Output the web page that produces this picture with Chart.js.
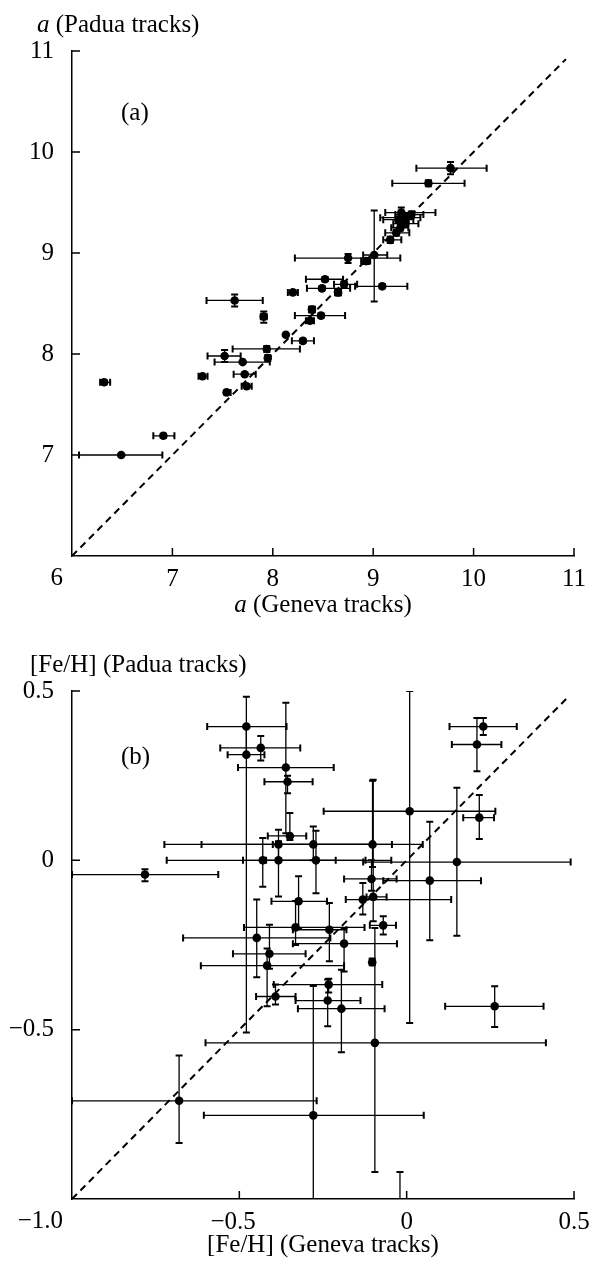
<!DOCTYPE html>
<html>
<head>
<meta charset="utf-8">
<script src="https://cdn.jsdelivr.net/npm/chart.js@4.4.1/dist/chart.umd.min.js"></script>
<style>
  body { margin: 0; background: #fff; }
  canvas { display: block; }
</style>
</head>
<body>
<canvas id="age_chart" width="598" height="630"></canvas>
<canvas id="feh_chart" width="598" height="633"></canvas>
<script>
// (a) a from Geneva tracks vs a from Padua tracks
const ageGeneva   = [9.77, 9.55, 9.28, 9.33, 9.38, 9.25, 9.32, 9.23, 9.17, 9.27, 9.01, 8.75, 8.93, 8.52, 8.49, 8.71, 8.65, 9.09, 8.20, 7.62, 7.91, 8.39, 8.48, 8.37, 8.13, 8.30, 7.94, 7.95, 7.52, 7.70, 6.32, 7.30, 7.72, 7.74, 7.54, 6.91, 6.49];
const agePadua    = [9.84, 9.69, 9.40, 9.35, 9.38, 9.33, 9.29, 9.20, 9.13, 9.25, 8.98, 8.95, 8.92, 8.74, 8.65, 8.69, 8.61, 8.67, 8.61, 8.53, 8.37, 8.44, 8.38, 8.33, 8.19, 8.13, 8.05, 7.96, 7.98, 7.92, 7.72, 7.78, 7.80, 7.68, 7.62, 7.19, 7.00];
const ageGenevaLo = [9.43, 9.19, 9.12, 9.07, 9.22, 9.10, 9.20, 9.12, 9.10, 9.18, 8.90, 8.22, 8.88, 8.33, 8.34, 8.61, 8.62, 8.82, 8.15, 7.34, 7.88, 8.36, 8.22, 8.33, 8.13, 8.19, 7.60, 7.93, 7.35, 7.42, 6.28, 7.26, 7.61, 7.69, 7.52, 6.81, 6.07];
const ageGenevaHi = [10.13, 9.91, 9.62, 9.47, 9.50, 9.40, 9.45, 9.36, 9.28, 9.35, 9.14, 9.27, 8.97, 8.70, 8.77, 8.84, 8.68, 9.34, 8.25, 7.90, 7.94, 8.42, 8.72, 8.41, 8.13, 8.41, 8.27, 7.97, 7.68, 7.97, 6.38, 7.35, 7.83, 7.79, 7.58, 7.02, 6.90];
const agePaduaLo  = [9.78, 9.66, 9.33, 9.31, 9.35, 9.30, 9.26, 9.17, 9.10, 9.22, 8.52, 8.90, 8.89, 8.72, 8.63, 8.66, 8.58, 8.65, 8.59, 8.47, 8.31, 8.41, 8.36, 8.31, 8.19, 8.11, 8.02, 7.93, 7.92, 7.91, 7.70, 7.77, 7.79, 7.67, 7.61, 7.17, 6.99];
const agePaduaHi  = [9.90, 9.72, 9.45, 9.39, 9.41, 9.36, 9.32, 9.23, 9.16, 9.28, 9.42, 8.99, 8.95, 8.76, 8.67, 8.72, 8.64, 8.69, 8.63, 8.59, 8.42, 8.47, 8.40, 8.35, 8.19, 8.15, 8.08, 7.99, 8.04, 7.93, 7.74, 7.79, 7.81, 7.69, 7.63, 7.21, 7.01];
const ageTicks = [6, 11, 1];
const ageDiagonal = [6, 10.92];

// (b) [Fe/H] from Geneva tracks vs [Fe/H] from Padua tracks
const fehGeneva   = [-0.479, -0.436, -0.479, -0.361, -0.356, 0.229, 0.210, 0.009, 0.217, 0.150, 0.069, -0.430, -0.383, -0.271, -0.782, -0.105, -0.323, -0.131, -0.100, -0.070, -0.332, -0.231, -0.448, -0.187, -0.410, -0.417, -0.103, -0.233, -0.392, -0.236, -0.195, 0.263, -0.095, -0.680, -0.279, -0.383, -0.349, -0.279, -0.102, -0.020];
const fehPadua    = [0.395, 0.332, 0.312, 0.274, 0.232, 0.395, 0.342, 0.145, 0.126, -0.005, -0.060, 0.000, 0.000, 0.000, -0.042, -0.055, -0.121, -0.116, -0.108, -0.192, -0.198, -0.205, -0.229, -0.246, -0.276, -0.311, -0.301, -0.367, -0.402, -0.414, -0.438, -0.431, -0.539, -0.710, -0.753, 0.047, 0.072, 0.047, 0.047, -1.080];
const fehGenevaLo = [-0.596, -0.557, -0.535, -0.504, -0.425, 0.128, 0.135, -0.248, 0.169, -0.130, -0.070, -0.717, -0.489, -0.420, -1.000, -0.187, -0.404, -0.182, -0.120, -0.110, -0.486, -0.340, -0.668, -0.340, -0.519, -0.615, -0.110, -0.397, -0.450, -0.332, -0.325, 0.115, -0.601, -1.000, -0.606, -0.724, -0.415, -0.613, -0.400, -0.020];
const fehGenevaHi = [-0.359, -0.318, -0.425, -0.218, -0.281, 0.329, 0.283, 0.265, 0.261, 0.490, 0.222, -0.212, -0.123, -0.046, -0.563, -0.030, -0.238, 0.133, -0.060, -0.032, -0.126, -0.180, -0.228, -0.029, -0.302, -0.187, -0.096, -0.073, -0.332, -0.138, -0.066, 0.409, 0.416, -0.269, 0.051, -0.100, -0.300, -0.044, 0.048, -0.020];
const fehPaduaLo  = [0.310, 0.295, -0.508, 0.080, 0.198, 0.370, 0.263, -0.480, 0.063, -0.223, -0.236, -0.078, -0.107, -0.097, -0.062, -0.090, -0.200, -0.160, -0.180, -0.219, -0.250, -0.298, -0.345, -0.328, -0.320, -0.431, -0.310, -0.390, -0.426, -0.490, -0.567, -0.492, -0.920, -0.835, -1.100, 0.000, 0.060, 0.000, -0.020, -1.200];
const fehPaduaHi  = [0.483, 0.367, 0.395, 0.465, 0.250, 0.420, 0.420, 0.500, 0.193, 0.214, 0.114, 0.066, 0.056, 0.087, -0.026, 0.000, -0.047, -0.067, 0.238, -0.165, -0.120, -0.126, -0.116, -0.200, -0.190, -0.260, -0.290, -0.350, -0.367, -0.352, -0.323, -0.372, -0.200, -0.576, -0.371, 0.090, 0.140, 0.100, 0.235, -0.920];
const fehTicks = [-1, 0.5, 0.5];
const fehDiagonal = [-1, 0.48];

const FONT = 'Liberation Serif, Times New Roman, serif';
const FONT_SIZE = 25;

function toPoints(xs, ys) {
    return xs.map((v, i) => ({ x: v, y: ys[i] }));
}

function fmtFeh(v) {
    if (Math.abs(v) < 1e-9) return '0';
    return (v < 0 ? '\u2212' : '') + Math.abs(v).toFixed(1);
}

// negative x labels: keep the digits centred under the tick
function fmtFehX(v) {
    return v < -1e-9 ? fmtFeh(v) + '\u2002' : fmtFeh(v);
}

// horizontal and vertical error bars with small end caps
const errorBars = {
    id: 'errorBars',
    beforeDatasetsDraw(chart) {
        const { ctx, chartArea: area, scales } = chart;
        const sx = scales.x, sy = scales.y;
        ctx.save();
        ctx.beginPath();
        ctx.rect(area.left, area.top, area.right - area.left, area.bottom - area.top);
        ctx.clip();
        ctx.strokeStyle = '#000';
        chart.data.datasets.forEach(ds => {
            const e = ds.errorBars;
            if (!e) return;
            ds.data.forEach((p, i) => {
                const px = sx.getPixelForValue(p.x);
                const py = sy.getPixelForValue(p.y);
                const x0 = sx.getPixelForValue(e.xLo[i]);
                const x1 = sx.getPixelForValue(e.xHi[i]);
                const y0 = sy.getPixelForValue(e.yLo[i]);
                const y1 = sy.getPixelForValue(e.yHi[i]);
                const hasX = x1 - x0 > 2, hasY = y0 - y1 > 2;
                ctx.lineWidth = 1.3;
                ctx.beginPath();
                if (hasX) { ctx.moveTo(x0, py); ctx.lineTo(x1, py); }
                if (hasY) { ctx.moveTo(px, y0); ctx.lineTo(px, y1); }
                ctx.stroke();
                ctx.lineWidth = 2;
                ctx.beginPath();
                if (hasX) {
                    ctx.moveTo(x0, py - 3.5); ctx.lineTo(x0, py + 3.5);
                    ctx.moveTo(x1, py - 3.5); ctx.lineTo(x1, py + 3.5);
                }
                if (hasY) {
                    ctx.moveTo(px - 3.5, y0); ctx.lineTo(px + 3.5, y0);
                    ctx.moveTo(px - 3.5, y1); ctx.lineTo(px + 3.5, y1);
                }
                ctx.stroke();
            });
        });
        ctx.restore();
    }
};

// tick marks pointing into the plot
const inwardTicks = {
    id: 'inwardTicks',
    afterDatasetsDraw(chart) {
        const { ctx, chartArea: a, scales } = chart;
        ctx.save();
        ctx.strokeStyle = '#000';
        ctx.lineWidth = 1.5;
        ctx.beginPath();
        scales.x.ticks.forEach(t => {
            const p = scales.x.getPixelForValue(t.value);
            if (p > a.left + 2) { ctx.moveTo(p, a.bottom); ctx.lineTo(p, a.bottom - 8); }
        });
        scales.y.ticks.forEach(t => {
            const p = scales.y.getPixelForValue(t.value);
            if (p < a.bottom - 2) { ctx.moveTo(a.left, p); ctx.lineTo(a.left + 8, p); }
        });
        ctx.stroke();
        ctx.restore();
    }
};

// axis titles, panel letter and the shared corner tick label
function panelText(t) {
    const font = italic => (italic ? 'italic ' : '') + FONT_SIZE + 'px ' + FONT;
    return {
        id: 'panelText',
        afterDraw(chart) {
            const { ctx, chartArea: a } = chart;
            ctx.save();
            ctx.fillStyle = '#000';
            ctx.textBaseline = 'middle';
            ctx.textAlign = 'left';
            let x = t.yTitleX;
            t.yTitle.forEach(([txt, italic]) => {
                ctx.font = font(italic);
                ctx.fillText(txt, x, a.top - 26);
                x += ctx.measureText(txt).width;
            });
            let w = 0;
            t.xTitle.forEach(([txt, italic]) => {
                ctx.font = font(italic);
                w += ctx.measureText(txt).width;
            });
            x = (a.left + a.right) / 2 - w / 2;
            t.xTitle.forEach(([txt, italic]) => {
                ctx.font = font(italic);
                ctx.fillText(txt, x, a.bottom + t.xTitleDy);
                x += ctx.measureText(txt).width;
            });
            ctx.font = font(false);
            ctx.fillText(t.panel, a.left + 49, a.top + t.panelDy);
            ctx.textAlign = 'right';
            ctx.fillText(t.corner, a.left - 9, a.bottom + 22);
            ctx.restore();
        }
    };
}

function axis(range, fmt, isX, size) {
    const [min, max, step] = range;
    return {
        type: 'linear',
        min: min,
        max: max,
        grid: { display: false },
        border: { display: true, color: '#000', width: 1.5 },
        ticks: {
            stepSize: step,
            autoSkip: false,
            maxRotation: 0,
            padding: isX ? 0 : 10,
            color: '#000',
            font: { family: FONT, size: FONT_SIZE },
            callback: v => (Math.abs(v - min) < 1e-9 ? '' : fmt(v))
        },
        afterFit: s => {
            if (isX) s.height = size; else s.width = size;
        }
    };
}

function drawPanel(id, p) {
    const canvas = document.getElementById(id);
    const chart = Chart.getChart(canvas);
    if (chart) chart.destroy();
    return new Chart(canvas, {
        type: 'scatter',
        data: {
            datasets: [{
                data: toPoints(p.gx, p.py),
                errorBars: { xLo: p.gxLo, xHi: p.gxHi, yLo: p.pyLo, yHi: p.pyHi },
                backgroundColor: '#000',
                borderWidth: 0,
                pointRadius: 4.3,
                pointHoverRadius: 4.3
            }, {
                data: toPoints(p.diag, p.diag),
                showLine: true,
                borderColor: '#000',
                borderWidth: 2,
                borderDash: [7, 5],
                pointRadius: 0
            }]
        },
        options: {
            responsive: false,
            animation: false,
            devicePixelRatio: 1,
            layout: { padding: { top: p.top, right: 24, left: 0, bottom: 0 } },
            plugins: { legend: { display: false }, tooltip: { enabled: false } },
            scales: {
                x: axis(p.ticks, p.fmtX, true, p.bottom),
                y: axis(p.ticks, p.fmtY, false, 72)
            }
        },
        plugins: [errorBars, inwardTicks, panelText(p.text)]
    });
}

drawPanel('age_chart', {
    gx: ageGeneva, py: agePadua,
    gxLo: ageGenevaLo, gxHi: ageGenevaHi, pyLo: agePaduaLo, pyHi: agePaduaHi,
    diag: ageDiagonal, ticks: ageTicks, fmtX: v => String(v), fmtY: v => String(v),
    top: 51, bottom: 74,
    text: {
        yTitle: [['a', true], [' (Padua tracks)', false]], yTitleX: 37,
        xTitle: [['a', true], [' (Geneva tracks)', false]], xTitleDy: 49,
        panel: '(a)', panelDy: 62, corner: '6'
    }
});

drawPanel('feh_chart', {
    gx: fehGeneva, py: fehPadua,
    gxLo: fehGenevaLo, gxHi: fehGenevaHi, pyLo: fehPaduaLo, pyHi: fehPaduaHi,
    diag: fehDiagonal, ticks: fehTicks, fmtX: fmtFehX, fmtY: fmtFeh,
    top: 61, bottom: 64,
    text: {
        yTitle: [['[Fe/H] (Padua tracks)', false]], yTitleX: 30,
        xTitle: [['[Fe/H] (Geneva tracks)', false]], xTitleDy: 46,
        panel: '(b)', panelDy: 66, corner: '\u22121.0'
    }
});
</script>
</body>
</html>
